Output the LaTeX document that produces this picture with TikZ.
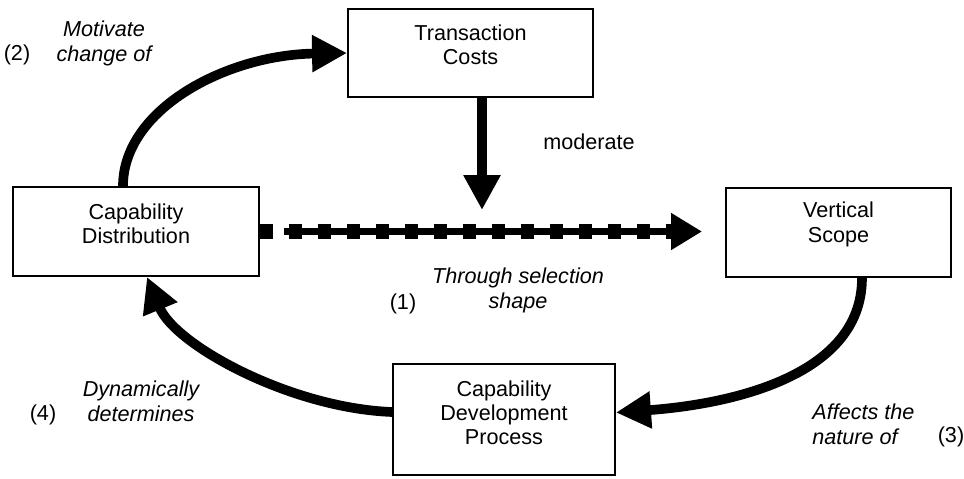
\documentclass[tikz,border=0pt]{standalone}
\usepackage{fontspec}
\setmainfont{Liberation Sans}
\usepackage{tikz}
\usetikzlibrary{arrows.meta,positioning,calc}

\begin{document}
\begin{tikzpicture}[
    x=0.02cm, y=-0.02cm,
    box/.style={rectangle, draw=black, line width=1.1pt, fill=white},
    boxtext/.style={align=center, inner sep=0pt, font=\fontsize{12.3}{13.8}\selectfont},
    note/.style={inner sep=0pt, font=\fontsize{12.3}{14.2}\selectfont\itshape},
    num/.style={inner sep=0pt, font=\fontsize{12.3}{14.2}\selectfont},
    bigarrow/.style={line width=5.5pt, -{Triangle[length=0.7cm, width=0.7cm]}}
]

\useasboundingbox (0,0) rectangle (964,478);

\node[box, minimum width=4.9cm, minimum height=1.76cm] (costs) at (470.5,53) {};
\node[box, minimum width=4.92cm, minimum height=1.78cm] (distr) at (136,231.5) {};
\node[box, minimum width=4.5cm, minimum height=1.78cm] (scope) at (838.5,232.5) {};
\node[box, minimum width=4.44cm, minimum height=2.22cm] (process) at (504,419.5) {};

\node[boxtext] (coststext) at ([yshift=0.16cm]costs.center) {Transaction\\Costs};
\node[boxtext] (distrtext) at ([yshift=0.16cm]distr.center) {Capability\\Distribution};
\node[boxtext] (scopetext) at ([yshift=0.16cm]scope.center) {Vertical\\Scope};
\node[boxtext] (processtext) at ([yshift=0.13cm]process.center) {Capability\\Development\\Process};

\coordinate (modtip) at (482,210);
\draw[bigarrow] ([xshift=0.23cm]costs.south) -- (modtip);
\node[num, anchor=west] (modlabel) at (543,142) {moderate};

\draw[line width=8.5pt, dash pattern=on 0.26cm off 0.32cm] (distr.east) -- ([xshift=-1.08cm]distr.east -| scope.west);
\draw[line width=4.5pt, -{Triangle[length=0.62cm, width=0.7cm]}, shorten >=0.46cm]
    ([xshift=0.48cm]distr.east) -- (distr.east -| scope.west);

\draw[bigarrow] ([xshift=-0.26cm]distr.north) .. controls (123,110) and (225,55) .. (costs.west);
\draw[bigarrow] ([xshift=0.47cm]scope.south) .. controls (862,380) and (720,405) .. ([yshift=0.14cm]process.east);
\draw[bigarrow] ([yshift=0.15cm]process.west) .. controls (290,408) and (175,345) .. ([xshift=0.22cm]distr.south);

\node[note, align=center] (selnote) at (518,290.5) {Through selection\\shape};
\node[num] (num1) at (403,304) {(1)};
\node[note, align=center] (motnote) at (104,43.5) {Motivate\\change of};
\node[num] (num2) at (17,55) {(2)};
\node[note, align=left, anchor=west] (affnote) at (812,424.5) {Affects the\\nature of};
\node[num] (num3) at (951,437) {(3)};
\node[note, align=center] (dynnote) at (141,401.5) {Dynamically\\determines};
\node[num] (num4) at (43,415) {(4)};

\end{tikzpicture}
\end{document}
